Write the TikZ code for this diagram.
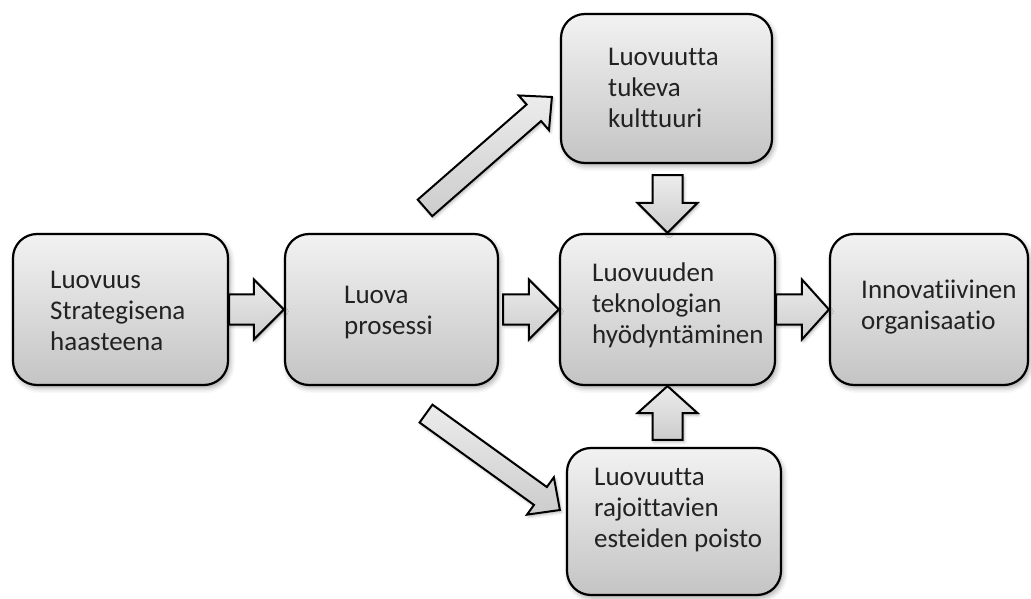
\documentclass[tikz,border=0pt]{standalone}
\usepackage{fontspec}
\setmainfont{Carlito}[Ligatures={NoCommon,NoRequired,NoContextual},Contextuals=NoAlternate]
\usetikzlibrary{calc,shadows.blur}

\definecolor{boxtop}{RGB}{242,242,242}
\definecolor{boxbot}{RGB}{196,196,196}
\definecolor{arrtop}{RGB}{236,236,236}
\definecolor{arrbot}{RGB}{204,204,204}
\definecolor{ink}{RGB}{34,34,34}

\tikzset{
  stage/.style={draw=black, line width=2.2pt, rounded corners=24pt,
    top color=boxtop, bottom color=boxbot, inner sep=0pt,
    blur shadow={shadow xshift=2pt, shadow yshift=-3pt,
                 shadow blur radius=5pt, shadow opacity=35}},
  boxtext/.style={anchor=north west, inner sep=0pt, align=left, text=ink,
    font=\fontsize{27}{31}\selectfont},
  blockarrow/.style={draw=black, line width=2pt, line join=miter,
    top color=arrtop, bottom color=arrbot,
    blur shadow={shadow xshift=1.5pt, shadow yshift=-2pt,
                 shadow blur radius=3pt, shadow opacity=30}},
}

% block arrow from tail #1 to tip #2: shaft half width #3,
% head half width #4, head length #5
\newcommand\blockarr[5]{%
  \path[blockarrow] let \p1=(#1), \p2=(#2),
      \n1={atan2(\y2-\y1,\x2-\x1)}, \n2={veclen(\x2-\x1,\y2-\y1)-#5} in
    ($(\p1)+({\n1+90}:#3)$)
    -- ($(\p1)+(\n1:\n2)+({\n1+90}:#3)$)
    -- ($(\p1)+(\n1:\n2)+({\n1+90}:#4)$)
    -- (\p2)
    -- ($(\p1)+(\n1:\n2)+({\n1-90}:#4)$)
    -- ($(\p1)+(\n1:\n2)+({\n1-90}:#3)$)
    -- ($(\p1)+({\n1-90}:#3)$)
    -- cycle;}

\begin{document}
\begin{tikzpicture}[x=1pt,y=1pt]
\useasboundingbox (0,0) rectangle (1031,598);

% stages
\node[stage, minimum width=215pt, minimum height=151pt] (b1) at (120.5,288.5) {};
\node[stage, minimum width=213pt, minimum height=151pt] (b2) at (391.5,288.5) {};
\node[stage, minimum width=215pt, minimum height=151pt] (b3) at (667.5,288.5) {};
\node[stage, minimum width=198pt, minimum height=151pt] (b4) at (929,288.5) {};
\node[stage, minimum width=211pt, minimum height=149pt] (kult) at (666.5,509.5) {};
\node[stage, minimum width=214pt, minimum height=147pt] (este) at (674,76.5) {};

% texts
\node[boxtext] (t1) at (50,331.7) {\strut Luovuus\\Strategisena\\haasteena};
\node[boxtext] (t2) at (344,316.7) {\strut Luova\\prosessi};
\node[boxtext] (t3) at (592,338) {\strut Luovuuden\\teknologian\\hyödyntäminen};
\node[boxtext] (t4) at (861,321.7) {\strut Innovatiivinen\\organisaatio};
\node[boxtext] (t5) at (608,554.7) {\strut Luovuutta\\tukeva\\kulttuuri};
\node[boxtext] (t6) at (594,134.7) {\strut Luovuutta\\rajoittavien\\esteiden poisto};

% arrow ends
\coordinate (a23) at ($(b2.east)+(4,0)$);
\coordinate (vdt) at ($(b3.north |- kult.south)+(0,-11)$);
\coordinate (vut) at ($(b3.south |- este.north)+(0,7)$);
\coordinate (d1t) at ($(b2.north)+(33.5,25)$);
\coordinate (d1h) at ($(kult.west)+(-8,-8.5)$);
\coordinate (d2t) at ($(b2.south)+(34.5,-27.5)$);
\coordinate (d2h) at ($(este.west)+(-6,11.5)$);

% connectors
\blockarr{b1.east}{b2.west}{15}{30}{30}
\blockarr{a23}{b3.west}{15}{30}{30}
\blockarr{b3.east}{b4.west}{15}{30}{27}
\blockarr{vdt}{b3.north}{15}{30}{30}
\blockarr{vut}{b3.south}{15}{30}{27}
\blockarr{d1t}{d1h}{11}{23}{24}
\blockarr{d2t}{d2h}{11}{23}{24}
\end{tikzpicture}
\end{document}
